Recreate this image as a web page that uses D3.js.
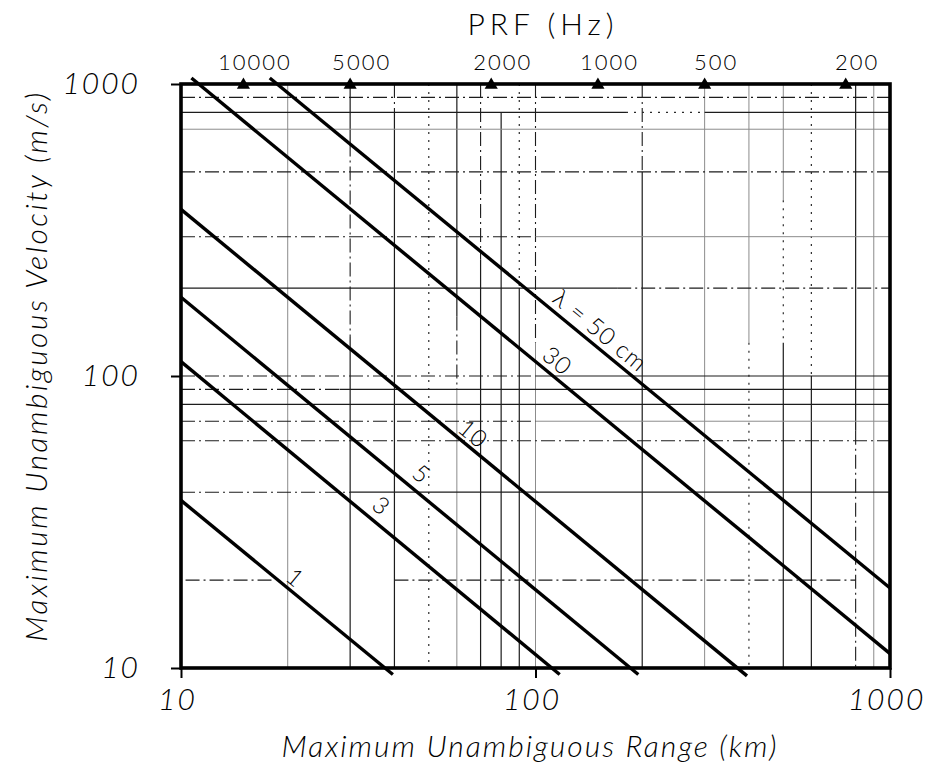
<!DOCTYPE html>
<html>
<head>
<meta charset="utf-8">
<script src="https://cdn.jsdelivr.net/npm/d3@7/dist/d3.min.js"></script>
<style>
  body { margin: 0; background: #fff; }
  svg { display: block; }
  text { font-family: Lato, "Open Sans", "DejaVu Sans", sans-serif; fill: #000; }
</style>
</head>
<body>
<svg id="chart" width="925" height="767"></svg>
<script>
// Radar wavelength lines: Vmax against Rmax, end points in (km, m/s)
const wavelengths   = [1, 3, 5, 10, 30, 50];
const lineLabels    = ["1", "3", "5", "10", "30", "λ = 50 cm"];
const startRange    = [10, 10, 10, 10, 10.7, 17.8];
const startVelocity = [37.5, 112, 186, 372, 1048, 1048];
const endRange      = [39.6, 117, 195, 395, 1000, 1000];
const endVelocity   = [9.5, 9.5, 9.5, 9.4, 11.2, 18.8];
// where each wavelength label sits (km, m/s)
const labelRange    = [21.1, 36.9, 47.9, 67, 115.8, 153];
const labelVelocity = [20.5, 36.2, 46.5, 63.8, 113.5, 144];

// PRF markers along the top edge
const prfValues  = [10000, 5000, 2000, 1000, 500, 200];
const prfRangeKm = [15, 30, 75, 150, 300, 750];

// axis ticks
const rangeTicks    = [10, 100, 1000];
const velocityTicks = [10, 100, 1000];

// vertical grid pieces: [range km, from m/s, to m/s, style]
const rangeGrid = [
  [20, 1000, 10, "light"],
  [30, 1000, 630, "solid"], [30, 630, 136, "dashdot"], [30, 136, 10, "solid"],
  [40, 1000, 800, "dashdot"], [40, 800, 10, "solid"],
  [50, 1000, 10, "dotted"],
  [60, 1000, 160, "solid"], [60, 160, 90, "dashdot"], [60, 90, 10, "light"],
  [70, 1000, 250, "dashdot"], [70, 250, 10, "solid"],
  [80, 800, 10, "solid"],
  [90, 1000, 200, "dotted"], [90, 200, 10, "solid"],
  [100, 1000, 130, "dashdot"], [100, 130, 10, "light"],
  [200, 1000, 500, "dashdot"], [200, 500, 10, "solid"],
  [300, 1000, 10, "light"],
  [400, 1000, 130, "light"], [400, 130, 10, "dotted"],
  [500, 1000, 400, "light"], [500, 400, 130, "dotted"], [500, 130, 10, "solid"],
  [600, 1000, 100, "dotted"], [600, 100, 10, "solid"],
  [800, 1000, 65, "solid"], [800, 65, 10, "dashdot"],
  [900, 1000, 10, "light"]
];

// horizontal grid pieces: [velocity m/s, from km, to km, style]
const velocityGrid = [
  [900, 10, 1000, "dashdot"],
  [800, 10, 180, "solid"], [800, 180, 300, "dotted"], [800, 300, 1000, "solid"],
  [700, 10, 1000, "light"],
  [500, 10, 1000, "dashdot"],
  [300, 10, 100, "dashdot"], [300, 100, 1000, "light"],
  [200, 10, 170, "solid"], [200, 170, 1000, "dashdot"],
  [100, 10, 100, "dashdot"], [100, 100, 1000, "solid"],
  [90, 10, 28, "dashdot"], [90, 28, 1000, "solid"],
  [80, 10, 1000, "solid"],
  [70, 10, 100, "dashdot"], [70, 100, 1000, "light"],
  [60, 10, 1000, "dashdot"],
  [40, 10, 30, "dashdot"], [40, 30, 1000, "solid"],
  [20, 10.3, 18, "dashdot"], [20, 40, 800, "dashdot"]
];

const gridStyles = {
  solid:   { stroke: "#1c1c1c", width: 1.2, dash: null },
  light:   { stroke: "#8c8c8c", width: 1.0, dash: null },
  dashdot: { stroke: "#1c1c1c", width: 1.1, dash: "14,4,2,4" },
  dotted:  { stroke: "#2a2a2a", width: 1.2, dash: "2,6" }
};

const svg = d3.select("#chart");
const plot = { left: 181, right: 890, top: 84, bottom: 668 };

const x = d3.scaleLog().domain([10, 1000]).range([plot.left, plot.right]);
const y = d3.scaleLog().domain([10, 1000]).range([plot.bottom, plot.top]);

// grid
const grid = svg.append("g").attr("class", "grid");
grid.selectAll("line.vg").data(rangeGrid).join("line")
  .attr("class", "vg")
  .attr("x1", d => x(d[0])).attr("x2", d => x(d[0]))
  .attr("y1", d => y(d[1])).attr("y2", d => y(d[2]))
  .attr("stroke", d => gridStyles[d[3]].stroke)
  .attr("stroke-width", d => gridStyles[d[3]].width)
  .attr("stroke-dasharray", d => gridStyles[d[3]].dash);
grid.selectAll("line.hg").data(velocityGrid).join("line")
  .attr("class", "hg")
  .attr("y1", d => y(d[0])).attr("y2", d => y(d[0]))
  .attr("x1", d => x(d[1])).attr("x2", d => x(d[2]))
  .attr("stroke", d => gridStyles[d[3]].stroke)
  .attr("stroke-width", d => gridStyles[d[3]].width)
  .attr("stroke-dasharray", d => gridStyles[d[3]].dash);

// wavelength lines
const lines = wavelengths.map((w, i) => ({
  w, label: lineLabels[i],
  p0: [startRange[i], startVelocity[i]],
  p1: [endRange[i], endVelocity[i]],
  lp: [labelRange[i], labelVelocity[i]]
}));
svg.append("g").selectAll("line").data(lines).join("line")
  .attr("x1", d => x(d.p0[0])).attr("y1", d => y(d.p0[1]))
  .attr("x2", d => x(d.p1[0])).attr("y2", d => y(d.p1[1]))
  .attr("stroke", "#000").attr("stroke-width", 3.4).attr("stroke-linecap", "butt");

svg.append("g").selectAll("text").data(lines).join("text")
  .attr("transform", d => {
    const ang = Math.atan2(y(d.p1[1]) - y(d.p0[1]), x(d.p1[0]) - x(d.p0[0])) * 180 / Math.PI;
    return `translate(${x(d.lp[0])},${y(d.lp[1])}) rotate(${ang})`;
  })
  .attr("text-anchor", "middle")
  .attr("dominant-baseline", "central")
  .style("font-size", "24px")
  .style("font-weight", 300)
  .style("letter-spacing", "1px")
  .text(d => d.label);

// frame
svg.append("rect")
  .attr("x", plot.left).attr("y", plot.top)
  .attr("width", plot.right - plot.left).attr("height", plot.bottom - plot.top)
  .attr("fill", "none").attr("stroke", "#000").attr("stroke-width", 3.6);

// bottom axis (range)
const xAxis = svg.append("g").attr("transform", `translate(0,${plot.bottom})`)
  .call(d3.axisBottom(x).tickValues(rangeTicks).tickSize(10).tickSizeOuter(0)
        .tickPadding(11).tickFormat(d3.format("d")));
xAxis.select(".domain").remove();
xAxis.selectAll(".tick line").attr("stroke", "#000").attr("stroke-width", 2);
xAxis.selectAll(".tick text")
  .attr("dx", -4)
  .style("font-size", "30px").style("font-style", "italic").style("font-weight", 300)
  .style("letter-spacing", "2px").style("font-family", "Lato, 'Open Sans', sans-serif");

// left axis (velocity)
const yAxis = svg.append("g").attr("transform", `translate(${plot.left},0)`)
  .call(d3.axisLeft(y).tickValues(velocityTicks).tickSize(10).tickSizeOuter(0)
        .tickPadding(31).tickFormat(d3.format("d")));
yAxis.select(".domain").remove();
yAxis.selectAll(".tick line").attr("stroke", "#000").attr("stroke-width", 2);
yAxis.selectAll(".tick text")
  .style("font-size", "30px").style("font-style", "italic").style("font-weight", 300)
  .style("letter-spacing", "2px").style("font-family", "Lato, 'Open Sans', sans-serif");

// top axis: PRF
const topAxis = svg.append("g").attr("transform", `translate(0,${plot.top})`)
  .call(d3.axisTop(x).tickValues(prfRangeKm).tickSize(0).tickPadding(14)
        .tickFormat((d, i) => prfValues[i]));
topAxis.select(".domain").remove();
topAxis.selectAll(".tick text")
  .attr("dx", 11)
  .style("font-size", "22px").style("font-weight", 300)
  .style("letter-spacing", "2px").style("font-family", "Lato, 'Open Sans', sans-serif");

// PRF markers
svg.append("g").selectAll("path").data(prfRangeKm).join("path")
  .attr("d", d3.symbol(d3.symbolTriangle, 75))
  .attr("transform", d => `translate(${x(d)},${plot.top + 1})`)
  .attr("fill", "#000");

// titles
svg.append("text")
  .attr("x", 543).attr("y", 35)
  .attr("text-anchor", "middle")
  .style("font-size", "30px").style("font-weight", 300).style("letter-spacing", "5px")
  .text("PRF (Hz)");

svg.append("text")
  .attr("x", 530).attr("y", 757)
  .attr("text-anchor", "middle")
  .style("font-size", "30px").style("font-style", "italic").style("font-weight", 300)
  .style("letter-spacing", "2px")
  .text("Maximum Unambiguous Range (km)");

svg.append("text")
  .attr("transform", "translate(47,366) rotate(-90)")
  .attr("text-anchor", "middle")
  .style("font-size", "30px").style("font-style", "italic").style("font-weight", 300)
  .style("letter-spacing", "2.5px")
  .text("Maximum Unambiguous Velocity (m/s)");
</script>
</body>
</html>
